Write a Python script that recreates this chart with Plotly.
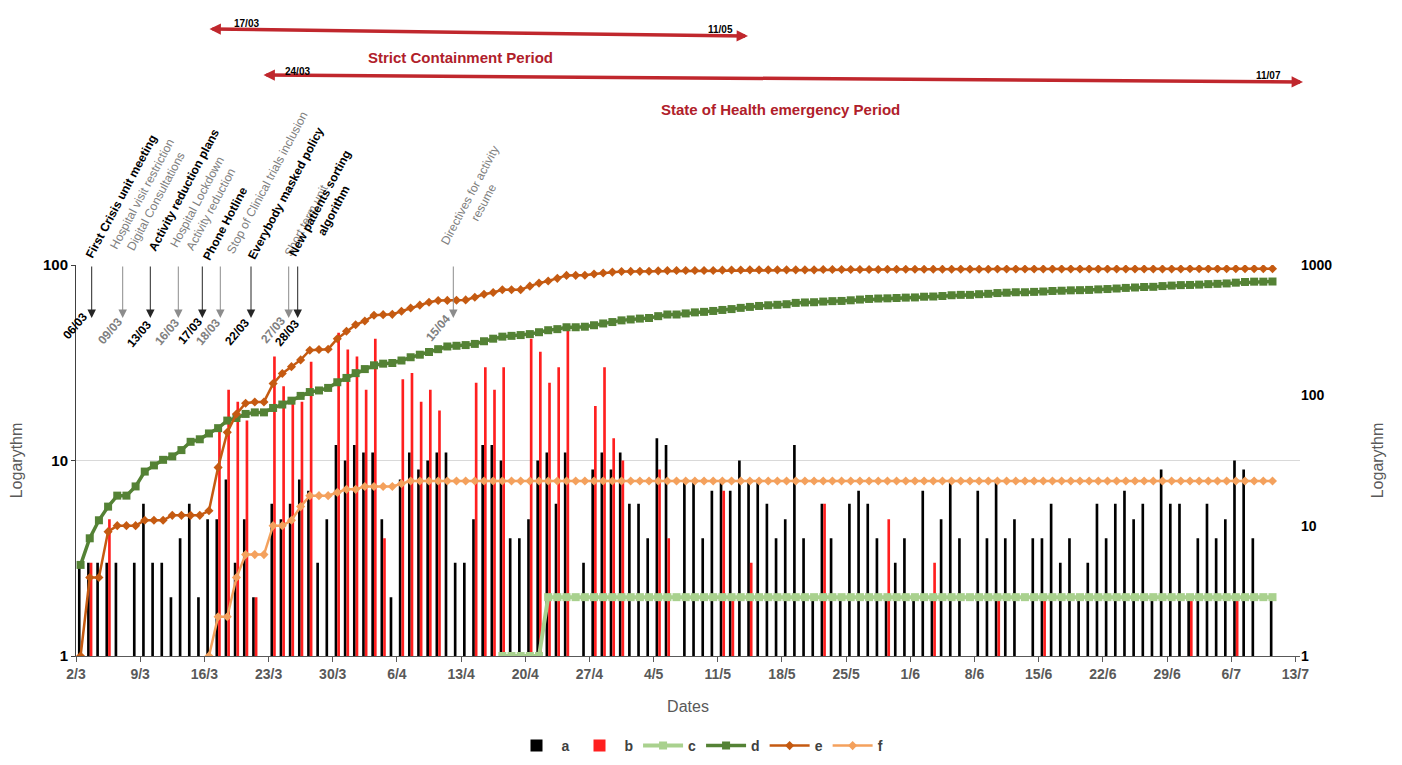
import plotly.graph_objects as go
import pandas as pd

# ---------------- data ----------------
start_date = "2020-03-02 12:00"
n_days = 131

a = [3, 3, 3, 3, 3, 0, 3, 6, 3, 3,
     2, 4, 6, 2, 5, 5, 8, 3, 5, 2,
     0, 6, 5, 6, 8, 7, 3, 5, 12, 10,
     12, 11, 11, 5, 2, 8, 11, 9, 10, 11,
     11, 3, 3, 5, 12, 12, 10, 4, 4, 5,
     10, 11, 6, 11, 0, 3, 9, 11, 9, 11,
     6, 6, 4, 13, 12, 0, 8, 8, 4, 7,
     8, 7, 10, 8, 8, 6, 4, 5, 12, 4,
     2, 6, 4, 2, 6, 7, 6, 4, 2, 3,
     4, 2, 7, 2, 5, 8, 4, 0, 7, 4,
     8, 4, 5, 0, 4, 4, 6, 3, 4, 2,
     3, 6, 4, 6, 7, 5, 6, 2, 9, 6,
     6, 2, 4, 6, 4, 5, 10, 9, 4, 0,
     2]

b = [0, 3, 0, 5, 1, 0, 0, 1, 0, 0,
     1, 0, 0, 0, 1, 14, 23, 20, 16, 2,
     0, 34, 24, 20, 20, 32, 0, 0, 45, 37,
     34, 23, 42, 4, 0, 26, 28, 20, 23, 18,
     0, 0, 0, 25, 30, 23, 30, 0, 0, 42,
     36, 25, 30, 46, 0, 0, 19, 30, 13, 10,
     0, 0, 0, 9, 4, 0, 0, 0, 0, 0,
     7, 2, 0, 3, 0, 0, 0, 0, 0, 0,
     0, 6, 0, 0, 0, 0, 0, 0, 5, 0,
     0, 0, 0, 3, 0, 0, 0, 0, 0, 0,
     2, 0, 0, 0, 0, 2, 0, 0, 0, 0,
     0, 0, 0, 0, 0, 0, 0, 0, 0, 0,
     0, 2, 0, 0, 0, 0, 2, 0, 0, 0,
     0]

c_first_day = 46
c = [1, 1, 1, 1, 1, 2, 2, 2, 2, 2,
     2, 2, 2, 2, 2, 2, 2, 2, 2, 2,
     2, 2, 2, 2, 2, 2, 2, 2, 2, 2,
     2, 2, 2, 2, 2, 2, 2, 2, 2, 2,
     2, 2, 2, 2, 2, 2, 2, 2, 2, 2,
     2, 2, 2, 2, 2, 2, 2, 2, 2, 2,
     2, 2, 2, 2, 2, 2, 2, 2, 2, 2,
     2, 2, 2, 2, 2, 2, 2, 2, 2, 2,
     2, 2, 2, 2, 2]

d = [5, 8, 11, 14, 17, 17, 20, 26, 29, 32,
     34, 38, 44, 46, 51, 56, 64, 67, 72, 74,
     74, 80, 85, 91, 99, 106, 109, 114, 126, 136,
     148, 159, 170, 175, 177, 185, 196, 205, 215, 226,
     237, 240, 243, 248, 260, 272, 282, 286, 290, 295,
     305, 316, 322, 333, 333, 336, 345, 356, 365, 376,
     382, 388, 392, 405, 417, 417, 425, 433, 437, 444,
     452, 459, 469, 477, 485, 491, 495, 500, 512, 516,
     518, 524, 528, 530, 536, 543, 549, 553, 555, 558,
     562, 564, 571, 573, 578, 586, 590, 590, 597, 601,
     609, 613, 618, 618, 622, 626, 632, 635, 639, 641,
     644, 650, 654, 660, 667, 672, 678, 680, 689, 695,
     701, 703, 707, 713, 717, 722, 732, 741, 745, 745,
     747]

e = [1, 4, 4, 9, 10, 10, 10, 11, 11, 11,
     12, 12, 12, 12, 13, 28, 52, 72, 87, 89,
     89, 123, 147, 166, 187, 222, 225, 226, 272, 310,
     348, 372, 412, 416, 418, 442, 468, 492, 518, 534,
     535, 536, 540, 566, 596, 615, 645, 646, 647, 688,
     726, 753, 790, 832, 833, 834, 852, 868, 882, 892,
     893, 894, 895, 902, 906, 907, 908, 908, 908, 908,
     913, 915, 915, 918, 918, 918, 918, 918, 918, 918,
     918, 923, 923, 923, 923, 923, 923, 923, 927, 927,
     927, 927, 927, 929, 929, 929, 929, 929, 929, 929,
     931, 931, 931, 931, 931, 933, 933, 933, 933, 933,
     933, 933, 933, 933, 933, 933, 933, 933, 933, 933,
     933, 935, 935, 935, 935, 935, 937, 937, 937, 937,
     937]

f_first_day = 14
f = [1, 2, 2, 4, 6, 6, 6, 10, 10, 11,
     14, 17, 17, 17, 18, 19, 19, 20, 20, 20,
     20, 21, 22, 22, 22, 22, 22, 22, 22, 22,
     22, 22, 22, 22, 22, 22, 22, 22, 22, 22,
     22, 22, 22, 22, 22, 22, 22, 22, 22, 22,
     22, 22, 22, 22, 22, 22, 22, 22, 22, 22,
     22, 22, 22, 22, 22, 22, 22, 22, 22, 22,
     22, 22, 22, 22, 22, 22, 22, 22, 22, 22,
     22, 22, 22, 22, 22, 22, 22, 22, 22, 22,
     22, 22, 22, 22, 22, 22, 22, 22, 22, 22,
     22, 22, 22, 22, 22, 22, 22, 22, 22, 22,
     22, 22, 22, 22, 22, 22, 22]

events = [
    ("First Crisis unit meeting", "06/03", "k"),
    ("Hospital visit restriction<br>Digital Consultations", "09/03", "g"),
    ("Activity reduction plans", "13/03", "k"),
    ("Hospital Lockdown<br>Activity reduction", "16/03", "g"),
    ("Phone Hotline", "17/03", "k"),
    ("Stop of Clinical trials inclusion", "18/03", "g"),
    ("Everybody masked policy", "22/03", "k"),
    ("Short term unit", "27/03", "g"),
    ("New patients sorting<br>algorithm", "28/03", "k"),
    ("Directives for activity<br>resume", "15/04", "g"),
]

# ---------------- layout helpers ----------------
# the page body adds an 8px offset, so the figure is sized/positioned to compensate
OFF = 8
W, H = 1402 - 2 * OFF, 765 - 2 * OFF
PLOT_L, PLOT_T, PW, PH = 76, 265, 1224, 391          # plot area in page pixels
ML, MT = PLOT_L - OFF, PLOT_T - OFF
MR, MB = W - ML - PW, H - MT - PH


def px(x):
    return (x - PLOT_L) / PW


def py(y):
    return (PLOT_T + PH - y) / PH


FONT = "Liberation Sans, Arial, sans-serif"
dates = pd.date_range(start_date, periods=n_days, freq="D")


def nz(v):
    return [x if x else None for x in v]


fig = go.Figure()
fig.add_trace(go.Bar(x=dates, y=nz(a), name="a", marker=dict(color="#000000", line_width=0)))
fig.add_trace(go.Bar(x=dates, y=nz(b), name="b", marker=dict(color="#FF1F1F", line_width=0)))
fig.add_trace(go.Scatter(x=dates[c_first_day:c_first_day + len(c)], y=c, name="c", mode="lines+markers",
                         line=dict(color="#A9D18E", width=4),
                         marker=dict(symbol="square", size=8, color="#A9D18E")))
fig.add_trace(go.Scatter(x=dates, y=d, name="d", mode="lines+markers", yaxis="y2",
                         line=dict(color="#548235", width=3.5),
                         marker=dict(symbol="square", size=8, color="#548235")))
fig.add_trace(go.Scatter(x=dates, y=e, name="e", mode="lines+markers", yaxis="y2",
                         line=dict(color="#C55A11", width=2.5),
                         marker=dict(symbol="diamond", size=7, color="#C55A11")))
fig.add_trace(go.Scatter(x=dates[f_first_day:f_first_day + len(f)], y=f, name="f", mode="lines+markers",
                         yaxis="y2",
                         line=dict(color="#F4A15D", width=2.5),
                         marker=dict(symbol="diamond", size=7, color="#F4A15D")))

ann = []

# top period arrows
RED = "#C0272D"
for (x0, y0, x1, y1) in [(208, 29, 748, 36), (262, 75, 1303, 82)]:
    ann.append(dict(x=px(x1), y=py(y1), xref="paper", yref="paper", text="",
                    showarrow=True, ax=x0 - x1, ay=y0 - y1, arrowside="end+start",
                    arrowhead=2, arrowsize=0.65, arrowwidth=3.5, arrowcolor=RED))
for (txt, x, y) in [("17/03", 232, 16), ("11/05", 720, 22), ("24/03", 283, 64), ("11/07", 1283, 68)]:
    ann.append(dict(x=px(x), y=py(y), xref="paper", yref="paper", text=txt, showarrow=False,
                    font=dict(family=FONT, size=10, color="#000000", weight="bold")))
for (txt, x, y) in [("Strict Containment Period", 366, 47), ("State of Health emergency Period", 780, 99)]:
    ann.append(dict(x=px(x), y=py(y), xref="paper", yref="paper", text=txt, showarrow=False,
                    font=dict(family=FONT, size=15, color="#B0202A", weight="bold")))

# event markers (pixel placement of arrows and rotated labels)
ev_arrow_x = [91.7, 122.7, 150.3, 178.3, 202.3, 220.3, 251, 288.7, 297.7, 453.3]
ev_label_c = [(121, 197), (149, 198), (184, 190), (204, 206), (225, 224), (267, 183), (286, 193),
              (306, 221), (327, 207), (477, 199)]
ev_date_c = [(75, 326), (110, 331), (139, 334), (167, 332), (190, 331), (208, 332), (237, 332),
             (273, 330), (287, 333), (438, 328)]
for (lab, dt, col), axx, lc, dc in zip(events, ev_arrow_x, ev_label_c, ev_date_c):
    tcol = "#000000" if col == "k" else "#808080"
    lcol = "#262626" if col == "k" else "#8C8C8C"
    wt = "bold" if col == "k" else "normal"
    ann.append(dict(x=px(axx), y=py(318), xref="paper", yref="paper", text="", showarrow=True,
                    ax=0, ay=-53, arrowhead=2, arrowsize=1.7, arrowwidth=1, arrowcolor=lcol))
    ann.append(dict(x=px(lc[0]), y=py(lc[1]), xref="paper", yref="paper", text=lab, showarrow=False,
                    textangle=-62, xanchor="center", yanchor="middle", align="center",
                    font=dict(family=FONT, size=12, color=tcol, weight=wt)))
    ann.append(dict(x=px(dc[0]), y=py(dc[1]), xref="paper", yref="paper", text=dt, showarrow=False,
                    textangle=-50, xanchor="center", yanchor="middle",
                    font=dict(family=FONT, size=12, color=tcol, weight="bold")))

fig.update_layout(
    width=W, height=H,
    margin=dict(l=ML, r=MR, t=MT, b=MB, pad=0, autoexpand=False),
    paper_bgcolor="white", plot_bgcolor="white",
    barmode="group", bargap=0.42, bargroupgap=0,
    font=dict(family=FONT),
    showlegend=True,
    legend=dict(orientation="h", x=px(700), xanchor="center", y=py(762), yanchor="bottom",
                font=dict(family=FONT, size=14, color="#404040", weight="bold"),
                itemwidth=40, traceorder="normal", borderwidth=0, bgcolor="rgba(0,0,0,0)"),
    xaxis=dict(type="date", range=["2020-03-02", "2020-07-13 12:00"],
               tick0="2020-03-02", dtick=7 * 86400000, tickformat="%-d/%-m",
               ticks="outside", ticklen=5, tickcolor="#595959", automargin=False,
               showline=True, linecolor="#595959", linewidth=1, showgrid=False, zeroline=False,
               tickfont=dict(family=FONT, size=14, color="#595959", weight="bold"),
               title=dict(text="Dates", font=dict(family=FONT, size=16, color="#595959"), standoff=20)),
    yaxis=dict(type="log", range=[0, 2], tickvals=[1, 10, 100], ticktext=["1", "10", "100"],
               showgrid=True, gridcolor="#D9D9D9", gridwidth=1, automargin=False,
               showline=True, linecolor="#404040", linewidth=1, ticks="outside", ticklen=4,
               tickcolor="#404040", zeroline=False,
               tickfont=dict(family=FONT, size=15, color="#000000", weight="bold"),
               title=dict(text="Logarythm", font=dict(family=FONT, size=16, color="#595959"), standoff=16)),
    yaxis2=dict(type="log", range=[0, 3], overlaying="y", side="right", automargin=False,
                tickvals=[1, 10, 100, 1000], ticktext=["1", "10", "100", "1000"],
                showgrid=False, showline=False, zeroline=False, ticks="",
                tickfont=dict(family=FONT, size=14, color="#000000", weight="bold"),
                title=dict(text="Logarythm", font=dict(family=FONT, size=16, color="#595959"), standoff=40)),
    annotations=ann,
)

fig.write_html("out.html")
